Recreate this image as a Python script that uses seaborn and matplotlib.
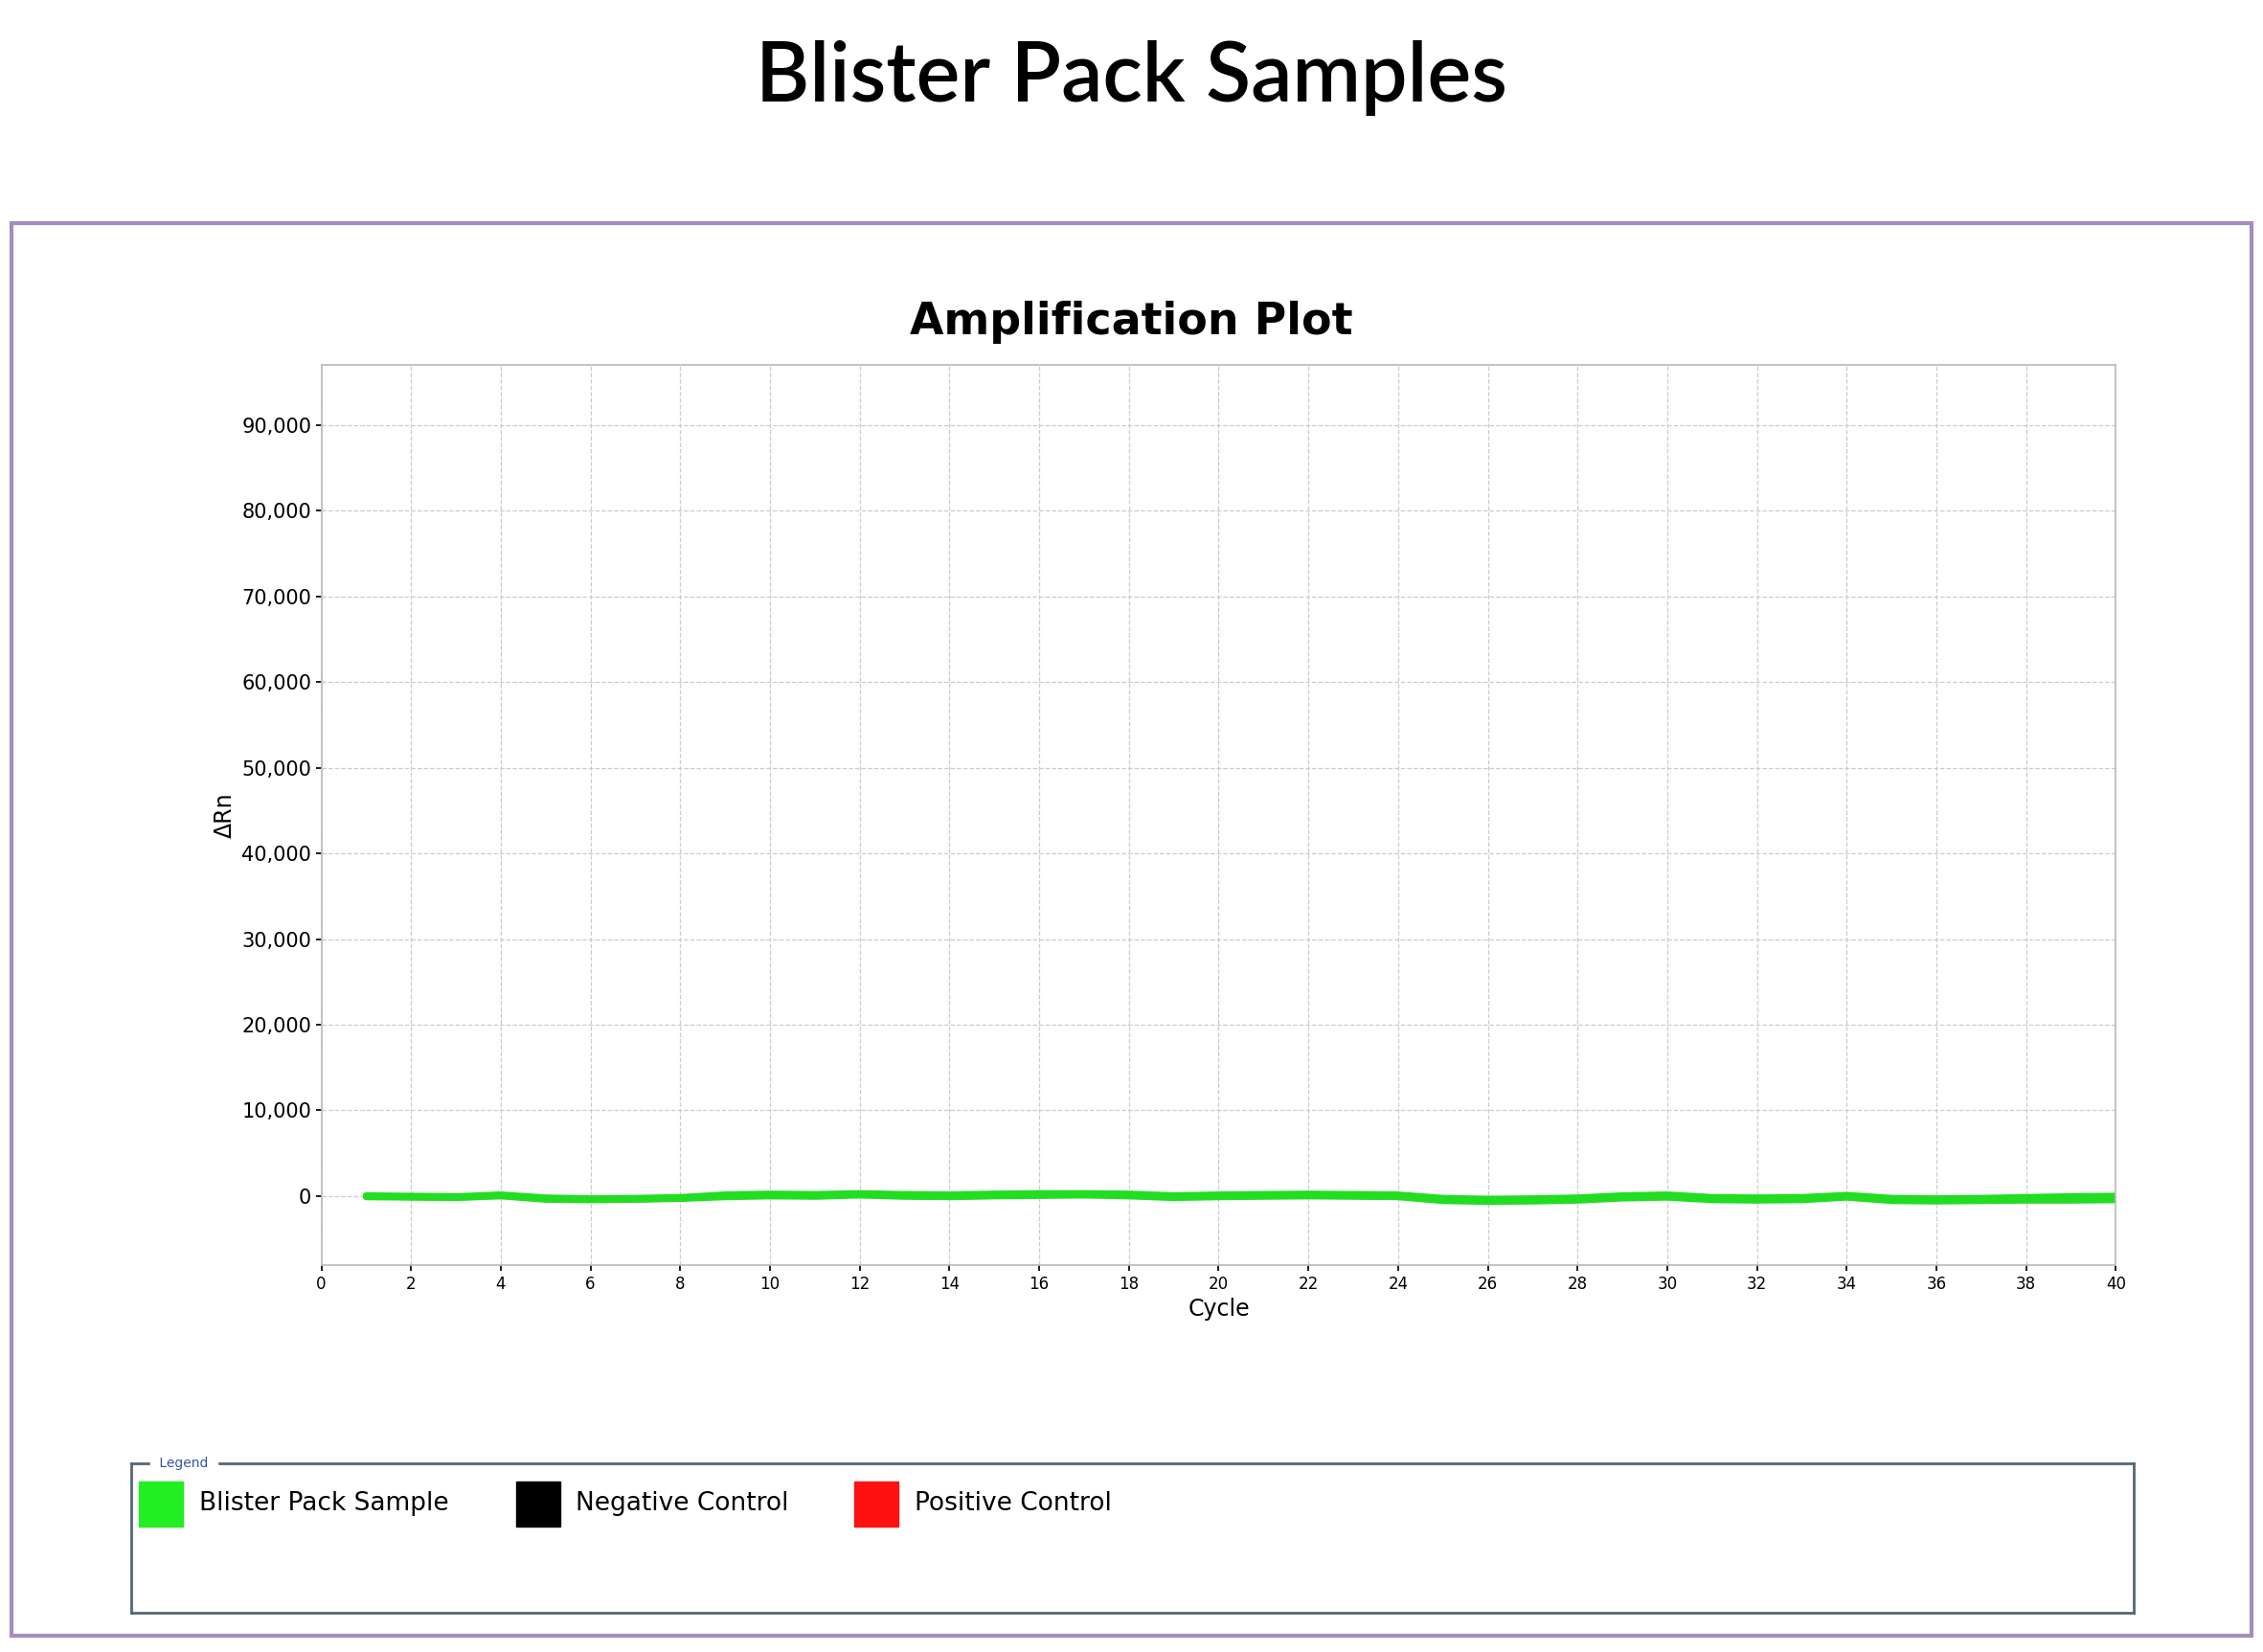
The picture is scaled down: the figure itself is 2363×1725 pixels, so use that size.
import matplotlib
matplotlib.use("Agg")
import matplotlib.pyplot as plt
import matplotlib.patches as mpatches
import seaborn as sns
import pandas as pd
import numpy as np

# data
cycles = list(range(1, 41))
sample_a = [0, -100, -150, 100, -300, -400, -350, -250, 50, 150, 100, 250, 100, 50, 150, 200,
            250, 150, -50, 50, 100, 150, 100, 50, -400, -500, -450, -350, -100, 50, -300, -350,
            -300, 0, -400, -450, -400, -300, -250, -200]
sample_b = [-100, -150, -200, 0, -400, -450, -400, -300, -100, 0, -50, 100, -50, -100, 0, 50,
            100, 0, -200, -100, -50, 0, -50, -100, -550, -650, -600, -500, -250, -150, -450, -500,
            -450, -150, -550, -600, -550, -500, -500, -450]
sample_c = [50, 0, -50, 150, -200, -300, -250, -150, 150, 250, 200, 300, 200, 150, 250, 300,
            300, 250, 50, 150, 200, 250, 200, 150, -250, -350, -300, -200, 50, 150, -150, -200,
            -150, 100, -250, -300, -250, -150, -50, 0]

df = pd.DataFrame({"Cycle": cycles * 3,
                   "dRn": sample_a + sample_b + sample_c,
                   "well": ["A"] * 40 + ["B"] * 40 + ["C"] * 40})

sns.set_theme(style="white")
plt.rcParams['font.family'] = ['DejaVu Sans']
plt.rcParams['text.color'] = 'black'
plt.rcParams['axes.labelcolor'] = 'black'
plt.rcParams['xtick.color'] = 'black'
plt.rcParams['ytick.color'] = 'black'

fig = plt.figure(figsize=(23.63, 17.25), dpi=100)
fig.patch.set_facecolor("white")

# outer frame
frame = mpatches.Rectangle((0.005, 0.01), 0.99, 0.855, transform=fig.transFigure,
                           fill=False, edgecolor="#a58cc0", linewidth=3)
fig.add_artist(frame)

fig.text(0.5, 0.953, "Blister Pack Samples", ha="center", va="center",
         fontsize=62, family=["Lato", "DejaVu Sans"], fontweight="semibold", color="black")

ax = fig.add_axes([0.142, 0.234, 0.793, 0.545])
sns.lineplot(data=df, x="Cycle", y="dRn", units="well", estimator=None,
             color="#22dd22", linewidth=5, ax=ax, legend=False)
ax.set_xlim(0, 40)
ax.set_ylim(-8100, 97000)
ax.set_xticks(range(0, 41, 2))
ax.set_yticks(range(0, 90001, 10000))
ax.set_yticklabels([f"{v:,}" for v in range(0, 90001, 10000)])
ax.tick_params(axis="x", labelsize=12, length=4, bottom=True)
ax.tick_params(axis="y", labelsize=15, length=4, left=True)
ax.grid(True, color="#cccccc", linestyle="--", linewidth=0.9)
for s in ax.spines.values():
    s.set_color("#bbbbbb")
ax.set_xlabel("Cycle", fontsize=17)
ax.set_ylabel("ΔRn", fontsize=17)
fig.text(0.5, 0.805, "Amplification Plot", ha="center", va="center",
         fontsize=33, fontweight="bold", color="black")

# legend box
lax = fig.add_axes([0.058, 0.024, 0.885, 0.09])
lax.set_xlim(0, 1)
lax.set_ylim(0, 1)
lax.set_xticks([])
lax.set_yticks([])
for s in lax.spines.values():
    s.set_color("#556677")
    s.set_linewidth(2)
lax.text(0.012, 1.0, " Legend ", fontsize=10, color="#3355aa", va="center",
         backgroundcolor="white")
names = ["Blister Pack Sample", "Negative Control", "Positive Control"]
colors = ["#22ee22", "#000000", "#ff1111"]
xs = [0.004, 0.192, 0.361]
for x, n, c in zip(xs, names, colors):
    lax.add_patch(mpatches.Rectangle((x, 0.58), 0.022, 0.3, color=c))
    lax.text(x + 0.03, 0.73, n, fontsize=19, va="center")

fig.savefig("out.png", dpi=100)
